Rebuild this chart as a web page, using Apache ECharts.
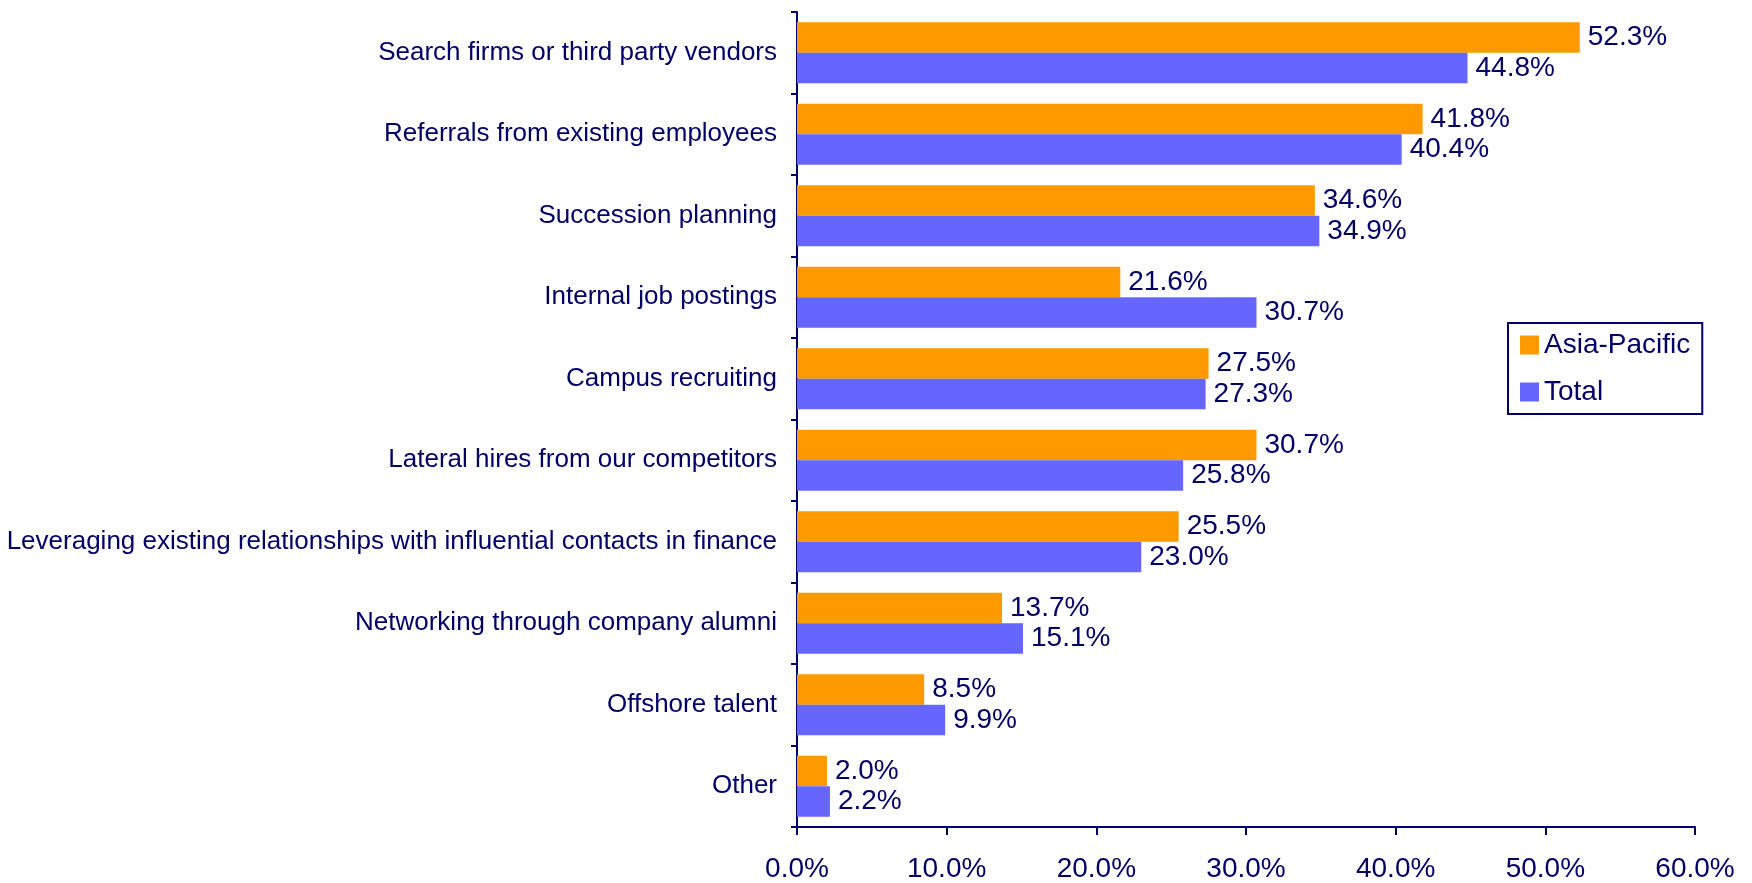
<!DOCTYPE html>
<html>
<head>
<meta charset="utf-8">
<title>Recruiting sources</title>
<script src="https://cdn.jsdelivr.net/npm/echarts@6/dist/echarts.min.js"></script>
<style>
    html, body { margin: 0; padding: 0; background: #fff; }
    #main { width: 1752px; height: 883px; }
</style>
</head>
<body>
<div id="main"></div>
<script>
// categories, top to bottom
const categories = [
    'Search firms or third party vendors',
    'Referrals from existing employees',
    'Succession planning',
    'Internal job postings',
    'Campus recruiting',
    'Lateral hires from our competitors',
    'Leveraging existing relationships with influential contacts in finance',
    'Networking through company alumni',
    'Offshore talent',
    'Other'
];
const asiaPacific = [52.3, 41.8, 34.6, 21.6, 27.5, 30.7, 25.5, 13.7, 8.5, 2.0];
const total = [44.8, 40.4, 34.9, 30.7, 27.3, 25.8, 23.0, 15.1, 9.9, 2.2];
const seriesNames = ['Asia-Pacific', 'Total'];
const xTicks = [0, 10, 20, 30, 40, 50, 60];

const navy = '#000066';
const fontFamily = 'Liberation Sans, Arial, sans-serif';

const chart = echarts.init(document.getElementById('main'));

// value labels at the end of each bar
const labelStyle = {
    show: true,
    position: 'right',
    distance: 8,
    color: navy,
    fontSize: 28,
    fontFamily: fontFamily,
    formatter: p => p.value.toFixed(1) + '%'
};

chart.setOption({
    animation: false,
    grid: {
        left: 797,
        right: 57,
        top: 12,
        bottom: 55
    },
    legend: {
        orient: 'vertical',
        left: 1508,
        top: 323,
        data: seriesNames,
        icon: 'rect',
        itemWidth: 19,
        itemHeight: 19,
        itemGap: 19,
        padding: [8, 12],
        borderColor: navy,
        borderWidth: 2,
        textStyle: { color: navy, fontSize: 28, fontFamily: fontFamily }
    },
    xAxis: {
        type: 'value',
        min: xTicks[0],
        max: xTicks[xTicks.length - 1],
        interval: 10,
        splitLine: { show: false },
        axisLine: { show: true, lineStyle: { color: navy, width: 2 } },
        axisTick: { show: true, length: 8, lineStyle: { color: navy, width: 2 } },
        axisLabel: {
            color: navy,
            fontSize: 28,
            fontFamily: fontFamily,
            margin: 28,
            formatter: v => v.toFixed(1) + '%'
        }
    },
    yAxis: {
        type: 'category',
        data: categories,
        inverse: true,
        axisLine: { show: true, lineStyle: { color: navy, width: 2 } },
        axisTick: { show: true, length: 6, lineStyle: { color: navy, width: 2 } },
        axisLabel: {
            color: navy,
            fontSize: 26,
            fontFamily: fontFamily,
            margin: 20
        }
    },
    series: [
        {
            name: seriesNames[0],
            type: 'bar',
            data: asiaPacific,
            barGap: '0%',
            barCategoryGap: '25%',
            itemStyle: { color: '#FF9900' },
            label: labelStyle
        },
        {
            name: seriesNames[1],
            type: 'bar',
            data: total,
            barGap: '0%',
            barCategoryGap: '25%',
            itemStyle: { color: '#6666FF' },
            label: labelStyle
        }
    ]
});
</script>
</body>
</html>
